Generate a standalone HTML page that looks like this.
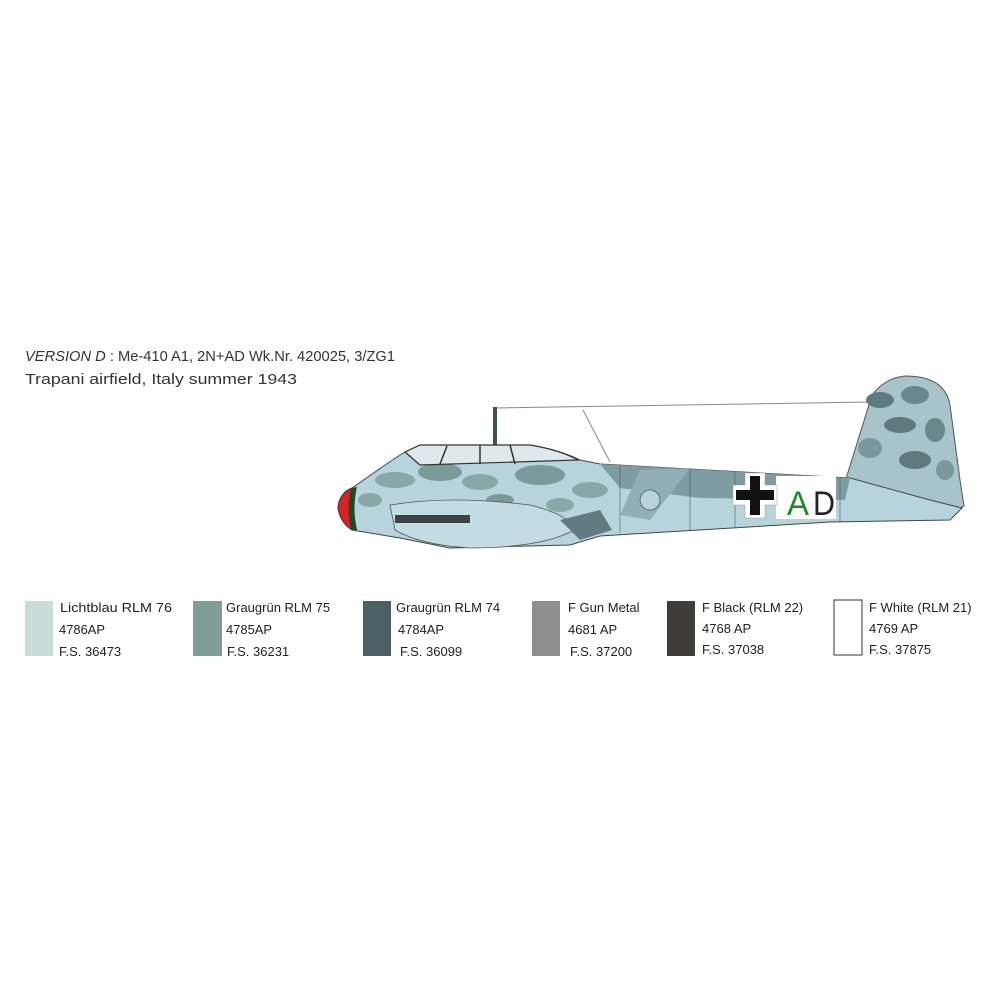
<!DOCTYPE html>
<html><head><meta charset="utf-8"><style>html,body{margin:0;padding:0;background:#fff}svg{display:block}</style></head>
<body>
<svg width="1000" height="1000" viewBox="0 0 1000 1000" xmlns="http://www.w3.org/2000/svg" font-family="Liberation Sans, sans-serif">
<rect width="1000" height="1000" fill="#fff"/>
<text x="25" y="361" font-size="15" fill="#333" textLength="370" lengthAdjust="spacingAndGlyphs"><tspan font-style="italic">VERSION D</tspan> : Me-410 A1, 2N+AD Wk.Nr. 420025, 3/ZG1</text>
<text x="25" y="384" font-size="15" fill="#333" textLength="272" lengthAdjust="spacingAndGlyphs">Trapani airfield, Italy summer 1943</text>

<polyline points="496,408 870,402" stroke="#888" stroke-width="1" fill="none"/>
<line x1="583" y1="410" x2="610" y2="462" stroke="#888" stroke-width="1"/>
<rect x="493" y="407" width="4" height="40" fill="#3f4f55"/>

<path d="M845,482 L872,395 Q885,378 905,376 Q945,376 950,405 L960,480 L964,506 L945,516 L850,512 Z" fill="#a9c3cb" stroke="#555" stroke-width="1"/>
<ellipse cx="880" cy="400" rx="14" ry="8" fill="#5f7a80"/>
<ellipse cx="915" cy="395" rx="14" ry="9" fill="#6b878c"/>
<ellipse cx="900" cy="425" rx="16" ry="8" fill="#60797e"/>
<ellipse cx="935" cy="430" rx="10" ry="12" fill="#6b878c"/>
<ellipse cx="870" cy="448" rx="12" ry="10" fill="#7c979b"/>
<ellipse cx="915" cy="460" rx="16" ry="9" fill="#60797e"/>
<ellipse cx="945" cy="470" rx="9" ry="10" fill="#7c979b"/>

<path d="M338,508 Q340,492 352,488 L375,472 Q392,460 405,452 L420,445 L530,445 Q560,450 580,460 L600,464 L850,478 L930,500 L962,508 L950,520 L830,522 L600,536 L570,545 L450,548 L400,538 L352,530 Q340,522 338,508 Z" fill="#b7d4dd" stroke="#444" stroke-width="1"/>
<path d="M600,464 L850,478 L845,500 L700,498 L620,488 Z" fill="#7f9ca3"/>
<path d="M640,470 L690,468 L650,520 L620,515 Z" fill="#92afb6"/>
<ellipse cx="395" cy="480" rx="20" ry="8" fill="#8aa6a8"/>
<ellipse cx="440" cy="472" rx="22" ry="9" fill="#7b989b"/>
<ellipse cx="480" cy="482" rx="18" ry="8" fill="#8aa6a8"/>
<ellipse cx="540" cy="475" rx="25" ry="10" fill="#7b989b"/>
<ellipse cx="590" cy="490" rx="18" ry="8" fill="#8aa6a8"/>
<ellipse cx="370" cy="500" rx="12" ry="7" fill="#8aa6a8"/>
<ellipse cx="560" cy="505" rx="14" ry="7" fill="#8aa6a8"/>
<ellipse cx="500" cy="500" rx="14" ry="6" fill="#7b989b"/>
<path d="M405,452 L420,445 L530,445 Q560,450 578,460 L420,465 Z" fill="#dfe8ec" stroke="#333" stroke-width="1.2"/>
<line x1="447" y1="446" x2="440" y2="464" stroke="#333" stroke-width="1.5"/>
<line x1="480" y1="445" x2="480" y2="464" stroke="#333" stroke-width="1.5"/>
<line x1="510" y1="445" x2="515" y2="464" stroke="#333" stroke-width="1.5"/>
<path d="M352,488 Q338,495 338,508 Q340,522 352,530 Q346,508 352,488 Z" fill="#d42424" stroke="#333" stroke-width="0.8"/>
<path d="M352,488 Q346,508 352,530 L357,530 Q352,508 357,487 Z" fill="#1e4a2a"/>
<path d="M390,505 Q450,495 530,505 Q570,515 575,530 Q540,548 470,548 Q420,545 395,530 Z" fill="#c3dbe2" stroke="#555" stroke-width="0.8"/>
<rect x="395" y="515" width="75" height="8" fill="#3e4446"/>
<path d="M560,520 L600,510 L612,530 L580,540 Z" fill="#627b80"/>
<circle cx="650" cy="500" r="10" fill="#b7d4dd" stroke="#555" stroke-width="0.8"/>
<g stroke="#556" stroke-width="0.6">
<line x1="690" y1="468" x2="690" y2="530"/><line x1="735" y1="471" x2="735" y2="528"/>
<line x1="620" y1="466" x2="620" y2="533"/><line x1="840" y1="478" x2="840" y2="522"/>
</g>
<rect x="776" y="476" width="60" height="43" fill="#fff"/>
<path d="M733,485 L745,485 L745,473 L765,473 L765,485 L777,485 L777,505 L765,505 L765,518 L745,518 L745,505 L733,505 Z" fill="#fff" stroke="#999" stroke-width="0.5"/>
<path d="M736,490 L750,490 L750,476 L760,476 L760,490 L774,490 L774,500 L760,500 L760,515 L750,515 L750,500 L736,500 Z" fill="#111"/>
<text x="787" y="515" font-size="34" fill="#1f8a2b" textLength="22" lengthAdjust="spacingAndGlyphs">A</text>
<text x="813" y="515" font-size="34" fill="#222" textLength="22" lengthAdjust="spacingAndGlyphs">D</text>

<g font-size="13" fill="#222">
<rect x="25" y="601" width="28" height="55" fill="#c8ddd9"/>
<text x="60" y="612" textLength="112" lengthAdjust="spacingAndGlyphs">Lichtblau RLM 76</text><text x="59" y="634" textLength="46" lengthAdjust="spacingAndGlyphs">4786AP</text><text x="59" y="656">F.S. 36473</text>
<rect x="193" y="601" width="29" height="55" fill="#7f9e97"/>
<text x="226" y="612">Graugrün RLM 75</text><text x="226" y="634" textLength="46" lengthAdjust="spacingAndGlyphs">4785AP</text><text x="227" y="656">F.S. 36231</text>
<rect x="363" y="601" width="28" height="55" fill="#4a6065"/>
<text x="396" y="612">Graugrün RLM 74</text><text x="398" y="634" textLength="46" lengthAdjust="spacingAndGlyphs">4784AP</text><text x="400" y="656">F.S. 36099</text>
<rect x="532" y="601" width="28" height="55" fill="#8e8e8e"/>
<text x="568" y="612">F Gun Metal</text><text x="568" y="634">4681 AP</text><text x="570" y="656">F.S. 37200</text>
<rect x="667" y="601" width="28" height="55" fill="#3e3d3a"/>
<text x="702" y="612">F Black (RLM 22)</text><text x="702" y="633">4768 AP</text><text x="702" y="654">F.S. 37038</text>
<rect x="834" y="600" width="28" height="55" fill="#fff" stroke="#333" stroke-width="1"/>
<text x="869" y="612">F White (RLM 21)</text><text x="869" y="633">4769 AP</text><text x="869" y="654">F.S. 37875</text>
</g>
</svg>
</body></html>
